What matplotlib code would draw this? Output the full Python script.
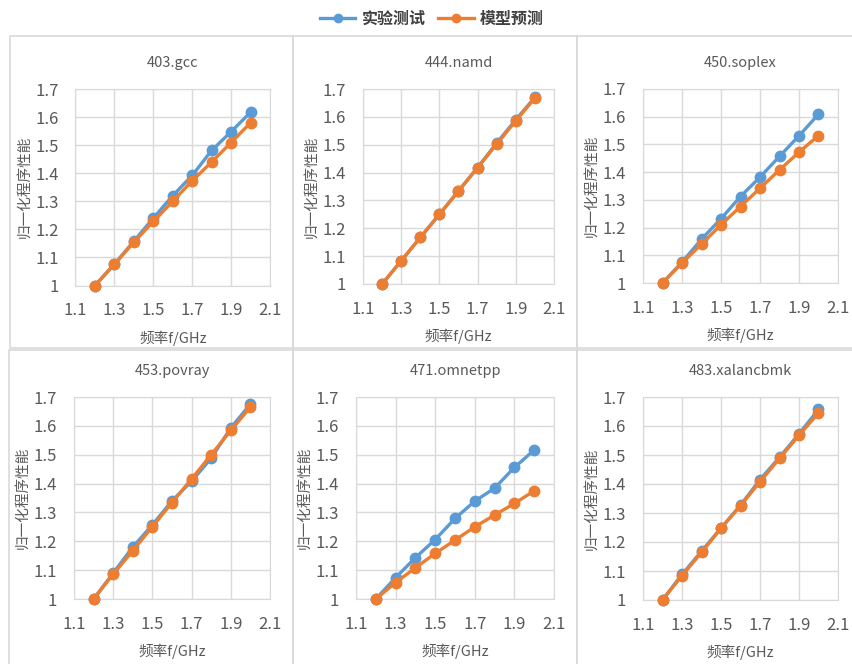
import matplotlib.pyplot as plt
from matplotlib.patches import Rectangle
from matplotlib.lines import Line2D

plt.rcParams['font.family'] = ['Noto Sans CJK SC', 'DejaVu Sans']

# 频率点 (GHz)
freq = [1.2, 1.3, 1.4, 1.5, 1.6, 1.7, 1.8, 1.9, 2.0]

benchmarks = ['403.gcc', '444.namd', '450.soplex',
              '453.povray', '471.omnetpp', '483.xalancbmk']

# 实验测试
gcc_meas = [1.0, 1.076, 1.158, 1.240, 1.320, 1.392, 1.481, 1.548, 1.617]
namd_meas = [1.0, 1.083, 1.167, 1.250, 1.334, 1.418, 1.506, 1.590, 1.670]
soplex_meas = [1.0, 1.075, 1.158, 1.232, 1.312, 1.382, 1.457, 1.531, 1.609]
povray_meas = [1.0, 1.090, 1.180, 1.257, 1.340, 1.408, 1.488, 1.593, 1.675]
omnetpp_meas = [1.0, 1.074, 1.143, 1.206, 1.279, 1.339, 1.384, 1.456, 1.516]
xalanc_meas = [1.0, 1.088, 1.168, 1.248, 1.327, 1.415, 1.492, 1.573, 1.657]

# 模型预测
gcc_pred = [1.0, 1.076, 1.154, 1.228, 1.300, 1.373, 1.440, 1.509, 1.580]
namd_pred = [1.0, 1.083, 1.167, 1.250, 1.334, 1.418, 1.502, 1.586, 1.668]
soplex_pred = [1.0, 1.072, 1.140, 1.210, 1.276, 1.342, 1.408, 1.472, 1.532]
povray_pred = [1.0, 1.086, 1.167, 1.251, 1.334, 1.416, 1.500, 1.584, 1.665]
omnetpp_pred = [1.0, 1.057, 1.108, 1.158, 1.204, 1.250, 1.291, 1.331, 1.375]
xalanc_pred = [1.0, 1.084, 1.164, 1.247, 1.325, 1.408, 1.488, 1.568, 1.645]

measured = [gcc_meas, namd_meas, soplex_meas, povray_meas, omnetpp_meas, xalanc_meas]
predicted = [gcc_pred, namd_pred, soplex_pred, povray_pred, omnetpp_pred, xalanc_pred]

x_ticks = [1.1, 1.3, 1.5, 1.7, 1.9, 2.1]
y_ticks = [1.0, 1.1, 1.2, 1.3, 1.4, 1.5, 1.6, 1.7]
y_ticklabels = ['1', '1.1', '1.2', '1.3', '1.4', '1.5', '1.6', '1.7']

BLUE = '#5B9BD5'
ORANGE = '#ED7D31'
TEXT = '#595959'
GRID = '#D9D9D9'

W, H = 853, 664
fig = plt.figure(figsize=(W / 100, H / 100), dpi=100)


def px_axes(x0, y0, x1, y1):
    # 以像素坐标(左上原点)放置坐标轴
    return fig.add_axes([x0 / W, 1 - y1 / H, (x1 - x0) / W, (y1 - y0) / H])


# 每个子图外框 (像素)
boxes = [(10, 36, 293, 348), (293, 36, 577, 348), (577, 36, 860, 348),
         (9, 350, 293, 670), (293, 350, 577, 670), (577, 350, 860, 670)]
# 绘图区 (像素)
plots = [(75.5, 89, 270, 285.5), (363, 89, 554, 284), (643, 89, 838, 283),
         (74, 397, 270, 599), (356, 397, 554, 599), (643, 397, 838, 600)]

for (bx0, by0, bx1, by1) in boxes:
    fig.patches.append(Rectangle((bx0 / W, 1 - by1 / H), (bx1 - bx0) / W, (by1 - by0) / H,
                                 transform=fig.transFigure, fill=False,
                                 edgecolor=GRID, linewidth=1.2, zorder=0))

for i, name in enumerate(benchmarks):
    ax = px_axes(*plots[i])
    ax.plot(freq, measured[i], color=BLUE, linewidth=2.4, marker='o',
            markersize=7.5, clip_on=False, zorder=3)
    ax.plot(freq, predicted[i], color=ORANGE, linewidth=2.4, marker='o',
            markersize=7.5, clip_on=False, zorder=4)
    ax.set_xlim(1.1, 2.1)
    ax.set_ylim(1.0, 1.7)
    ax.set_xticks(x_ticks)
    ax.set_xticklabels([f'{v:.1f}' for v in x_ticks])
    ax.set_yticks(y_ticks)
    ax.set_yticklabels(y_ticklabels)
    ax.grid(True, color=GRID, linewidth=1)
    ax.set_axisbelow(True)
    for s in ax.spines.values():
        s.set_color(GRID)
    ax.tick_params(length=0, labelsize=12, labelcolor=TEXT)
    ax.tick_params(axis='y', pad=12)
    ax.tick_params(axis='x', pad=12)
    ax.set_title(name, fontsize=10.5, color=TEXT, pad=16)
    ax.set_xlabel('频率f/GHz', fontsize=10.5, color=TEXT, labelpad=8)
    ax.set_ylabel('归一化程序性能', fontsize=10.5, color=TEXT, labelpad=3)

handles = [Line2D([], [], color=BLUE, linewidth=2.4, marker='o', markersize=6),
           Line2D([], [], color=ORANGE, linewidth=2.4, marker='o', markersize=6)]
fig.legend(handles, ['实验测试', '模型预测'], loc='center', bbox_to_anchor=(432 / W, 1 - 19 / H),
           ncol=2, frameon=False, handlelength=2.2, columnspacing=0.8, handletextpad=0.4,
           prop={'family': ['Noto Sans CJK SC', 'DejaVu Sans'], 'weight': 'bold', 'size': 11.5},
           labelcolor='#404040')

fig.savefig('out.png', dpi=100)
